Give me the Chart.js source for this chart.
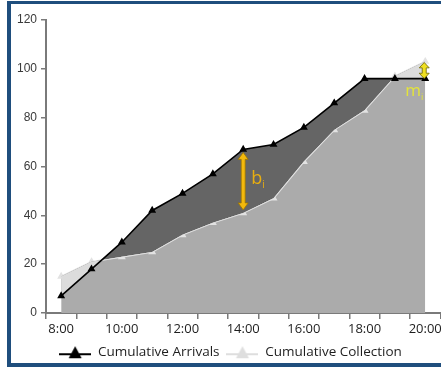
<!DOCTYPE html>
<html>
<head>
<meta charset="utf-8">
<script src="https://cdn.jsdelivr.net/npm/chart.js@4.4.1/dist/chart.umd.min.js"></script>
<style>
    html, body { margin: 0; padding: 0; background: #fff; }
    body { width: 441px; height: 370px; position: relative; overflow: hidden; }
    #frame {
        position: absolute; left: 7px; top: 1px;
        width: 440px; height: 359px;
        border-left: 4px solid #1f4e7d;
        border-top: 3px solid #1f4e7d;
        border-bottom: 4px solid #1f4e7d;
    }
    /* canvas runs a few px past the right edge so the axis reaches the frame */
    #chart { position: absolute; left: 15px; top: 0; }
</style>
</head>
<body>
<div id="frame"></div>
<canvas id="chart" width="431" height="370"></canvas>
<script>
// Data
const hours = ['8:00', '9:00', '10:00', '11:00', '12:00', '13:00', '14:00',
               '15:00', '16:00', '17:00', '18:00', '19:00', '20:00'];
const arrivals = [7, 18, 29, 42, 49, 57, 67, 69, 76, 86, 96, 96, 96];
const collection = [15, 21, 23, 25, 32, 37, 41, 47, 62, 75, 83, 97, 103];
const yTicks = [0, 20, 40, 60, 80, 100, 120];

// where the yellow markers sit (index into hours)
const bIndex = 6;
const mIndex = 12;

// Legend marker: short line with a triangle in the middle
const makeMarker = (color) => {
    const c = document.createElement('canvas');
    c.width = 32;
    c.height = 14;
    const ctx = c.getContext('2d');
    ctx.strokeStyle = color;
    ctx.fillStyle = color;
    ctx.lineWidth = 2;
    ctx.beginPath();
    ctx.moveTo(0, 9);
    ctx.lineTo(32, 9);
    ctx.stroke();
    ctx.beginPath();
    ctx.moveTo(16, 1);
    ctx.lineTo(22.5, 13);
    ctx.lineTo(9.5, 13);
    ctx.closePath();
    ctx.fill();
    return c;
};

// Double headed yellow arrow
const drawArrow = (ctx, x, y1, y2, fill, stroke) => {
    const top = Math.min(y1, y2);
    const bot = Math.max(y1, y2);
    const head = Math.min(7, (bot - top) / 3);
    const hw = 5;
    const sw = 2;
    ctx.save();
    ctx.beginPath();
    ctx.moveTo(x, top);
    ctx.lineTo(x + hw, top + head);
    ctx.lineTo(x + sw, top + head);
    ctx.lineTo(x + sw, bot - head);
    ctx.lineTo(x + hw, bot - head);
    ctx.lineTo(x, bot);
    ctx.lineTo(x - hw, bot - head);
    ctx.lineTo(x - sw, bot - head);
    ctx.lineTo(x - sw, top + head);
    ctx.lineTo(x - hw, top + head);
    ctx.closePath();
    ctx.fillStyle = fill;
    ctx.fill();
    ctx.lineWidth = 0.8;
    ctx.strokeStyle = stroke;
    ctx.stroke();
    ctx.restore();
};

const drawSubLabel = (ctx, main, sub, x, y, color, size) => {
    ctx.save();
    ctx.fillStyle = color;
    ctx.textBaseline = 'alphabetic';
    ctx.font = size + 'px "Open Sans"';
    ctx.fillText(main, x, y);
    const w = ctx.measureText(main).width;
    ctx.font = Math.round(size * 0.55) + 'px "Open Sans"';
    ctx.fillText(sub, x + w, y + 4);
    ctx.restore();
};

const gapMarkers = {
    id: 'gapMarkers',
    afterDatasetsDraw(chart) {
        const ctx = chart.ctx;
        const xs = chart.scales.x;
        const ys = chart.scales.y;

        const bx = xs.getPixelForValue(bIndex);
        drawArrow(ctx, bx, ys.getPixelForValue(arrivals[bIndex]) + 3,
            ys.getPixelForValue(collection[bIndex]) - 3, '#f3b90c', '#9a7400');
        drawSubLabel(ctx, 'b', 'i', bx + 8, ys.getPixelForValue((arrivals[bIndex] + collection[bIndex]) / 2) + 3, '#e8ae10', 18);

        const mx = xs.getPixelForValue(mIndex) - 1;
        drawArrow(ctx, mx, ys.getPixelForValue(collection[mIndex]) + 1,
            ys.getPixelForValue(arrivals[mIndex]), '#f0e020', '#6b6400');
        drawSubLabel(ctx, 'm', 'i', mx - 19, ys.getPixelForValue(arrivals[mIndex]) + 17, '#e4e43a', 17);
    }
};

new Chart(document.getElementById('chart'), {
    type: 'line',
    data: {
        labels: hours,
        datasets: [
            {
                label: 'Cumulative Arrivals',
                data: arrivals,
                borderColor: '#000',
                backgroundColor: '#000',
                borderWidth: 1.6,
                pointStyle: 'triangle',
                pointRadius: 3,
                pointBackgroundColor: '#000',
                pointBorderColor: '#000',
                tension: 0,
                fill: { target: 1, above: '#656565', below: '#dcdcdc' }
            },
            {
                label: 'Cumulative Collection',
                data: collection,
                borderColor: '#e2e2e2',
                backgroundColor: '#ababab',
                borderWidth: 1.6,
                pointStyle: 'triangle',
                pointRadius: 3,
                pointBackgroundColor: '#e2e2e2',
                pointBorderColor: '#e2e2e2',
                tension: 0,
                fill: 'origin'
            }
        ]
    },
    options: {
        responsive: false,
        animation: false,
        layout: { padding: { left: 0, right: 0, top: 20, bottom: 1 } },
        scales: {
            x: {
                offset: true,
                grid: {
                    offset: true,
                    drawOnChartArea: false,
                    drawTicks: true,
                    tickLength: 6,
                    color: '#7a7a7a',
                    lineWidth: 1.5
                },
                border: { display: true, color: '#7a7a7a', width: 2 },
                ticks: {
                    autoSkip: false,
                    maxRotation: 0,
                    padding: 2,
                    color: '#1e1e1e',
                    font: { family: '"Open Sans"', size: 13 },
                    callback: function (val, i) {
                        return i % 2 === 0 ? this.getLabelForValue(val) : '';
                    }
                },
                afterFit: (scale) => { scale.height = 25.5; }
            },
            y: {
                min: 0,
                max: 120,
                afterBuildTicks: (scale) => {
                    scale.ticks = yTicks.map(v => ({ value: v }));
                },
                grid: {
                    drawOnChartArea: false,
                    drawTicks: true,
                    tickLength: 5,
                    color: '#7a7a7a',
                    lineWidth: 1.5
                },
                border: { display: true, color: '#7a7a7a', width: 2 },
                ticks: {
                    padding: 4,
                    color: '#3a3a3a',
                    font: { family: '"Liberation Sans"', size: 12 }
                },
                afterFit: (scale) => { scale.width = 31; }
            }
        },
        plugins: {
            tooltip: { enabled: false },
            legend: {
                position: 'bottom',
                labels: {
                    usePointStyle: true,
                    pointStyleWidth: 32,
                    boxHeight: 14,
                    padding: 7,
                    color: '#1e1e1e',
                    font: { family: '"Open Sans"', size: 13.5 },
                    generateLabels: (chart) => chart.data.datasets.map((ds, i) => ({
                        text: ds.label,
                        datasetIndex: i,
                        fontColor: '#1e1e1e',
                        pointStyle: makeMarker(i === 0 ? '#000' : '#dedede'),
                        hidden: false,
                        lineWidth: 0
                    }))
                }
            }
        }
    },
    plugins: [gapMarkers]
});
</script>
</body>
</html>
